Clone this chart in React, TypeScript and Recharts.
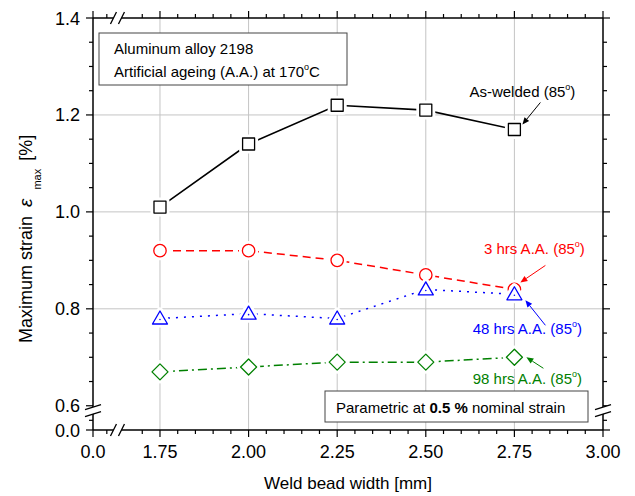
import { LineChart, Line, XAxis, YAxis, CartesianGrid, ReferenceDot } from 'recharts';

const FONT = '"Liberation Sans", Arial, Helvetica, sans-serif';

const widths = [1.75, 2.0, 2.25, 2.5, 2.75];
const asWelded = [1.01, 1.14, 1.22, 1.21, 1.17];
const aged3h = [0.92, 0.92, 0.9, 0.87, 0.84];
const aged48h = [0.78, 0.79, 0.78, 0.84, 0.83];
const aged98h = [0.67, 0.68, 0.69, 0.69, 0.7];

// broken axes: the "0.0" tick sits at the low end of each domain
const X_DOMAIN = [1.561, 3.0];
const Y_DOMAIN = [0.55, 1.4];
const xMajor = [1.561, 1.75, 2.0, 2.25, 2.5, 2.75, 3.0];
const xMajorLabels = ['0.0', '1.75', '2.00', '2.25', '2.50', '2.75', '3.00'];
const xMinor = [1.6, 1.7, 1.8, 1.85, 1.9, 1.95, 2.05, 2.1, 2.15, 2.2, 2.3, 2.35, 2.4, 2.45, 2.55, 2.6, 2.65, 2.7, 2.8, 2.85, 2.9, 2.95];
const yMajor = [0.55, 0.6, 0.8, 1.0, 1.2, 1.4];
const yMajorLabels = ['0.0', '0.6', '0.8', '1.0', '1.2', '1.4'];
const yMinor = [0.57, 0.65, 0.7, 0.75, 0.85, 0.9, 0.95, 1.05, 1.1, 1.15, 1.25, 1.3, 1.35];
const xGrid = [1.75, 2.0, 2.25, 2.5, 2.75];
const yGrid = [0.8, 1.0, 1.2];
const X_BREAK = 1.63;
const Y_BREAK = 0.59;

const data = widths.map((w, i) => ({
  w,
  asWelded: asWelded[i],
  aged3h: aged3h[i],
  aged48h: aged48h[i],
  aged98h: aged98h[i],
}));

const near = (a: number, b: number) => Math.abs(a - b) < 1e-6;
const xTicks = [...xMajor, ...xMinor, X_BREAK];
const yTicks = [...yMajor, ...yMinor, Y_BREAK];

function labelFor(v: number, major: number[], labels: string[]) {
  const i = major.findIndex(m => near(m, v));
  return i >= 0 ? labels[i] : null;
}

function HBreak({ x, y }: any) {
  return (
    <g>
      <polygon points={`${x - 7},${y + 6} ${x - 1},${y - 6} ${x + 7},${y - 6} ${x + 1},${y + 6}`} fill="#fff" />
      <line x1={x - 7} y1={y + 6} x2={x - 1} y2={y - 6} stroke="#000" strokeWidth={1.3} />
      <line x1={x + 1} y1={y + 6} x2={x + 7} y2={y - 6} stroke="#000" strokeWidth={1.3} />
    </g>
  );
}

function VBreak({ x, y }: any) {
  return (
    <g>
      <polygon points={`${x - 8},${y - 1} ${x + 8},${y - 6} ${x + 8},${y + 1} ${x - 8},${y + 6}`} fill="#fff" />
      <line x1={x - 8} y1={y - 1} x2={x + 8} y2={y - 6} stroke="#000" strokeWidth={1.3} />
      <line x1={x - 8} y1={y + 6} x2={x + 8} y2={y + 1} stroke="#000" strokeWidth={1.3} />
    </g>
  );
}

function BottomTick({ x, y, payload }: any) {
  const v = payload.value;
  if (near(v, X_BREAK)) return <HBreak x={x} y={y} />;
  const label = labelFor(v, xMajor, xMajorLabels);
  return (
    <g>
      <line x1={x} x2={x} y1={y} y2={y + (label ? 7 : 4)} stroke="#000" strokeWidth={1.2} />
      {label && (
        <text x={x} y={y + 28} textAnchor="middle" fontSize={18} fontFamily={FONT} fill="#000">
          {label}
        </text>
      )}
    </g>
  );
}

function TopTick({ x, y, payload }: any) {
  const v = payload.value;
  if (near(v, X_BREAK)) return <HBreak x={x} y={y} />;
  const major = labelFor(v, xMajor, xMajorLabels);
  return <line x1={x} x2={x} y1={y} y2={y - (major ? 7 : 4)} stroke="#000" strokeWidth={1.2} />;
}

function LeftTick({ x, y, payload }: any) {
  const v = payload.value;
  if (near(v, Y_BREAK)) return <VBreak x={x} y={y} />;
  const label = labelFor(v, yMajor, yMajorLabels);
  return (
    <g>
      <line x1={x} x2={x - (label ? 7 : 4)} y1={y} y2={y} stroke="#000" strokeWidth={1.2} />
      {label && (
        <text x={x - 13} y={y + 6.5} textAnchor="end" fontSize={18} fontFamily={FONT} fill="#000">
          {label}
        </text>
      )}
    </g>
  );
}

function RightTick({ x, y, payload }: any) {
  const v = payload.value;
  if (near(v, Y_BREAK)) return <VBreak x={x} y={y} />;
  const major = labelFor(v, yMajor, yMajorLabels);
  return <line x1={x} x2={x + (major ? 7 : 4)} y1={y} y2={y} stroke="#000" strokeWidth={1.2} />;
}

function XTitle({ viewBox }: any) {
  const { x, y, width } = viewBox;
  return (
    <text x={x + width / 2} y={y + 59} textAnchor="middle" fontSize={17} fontFamily={FONT} fill="#000">
      Weld bead width [mm]
    </text>
  );
}

function YTitle({ viewBox }: any) {
  const base = viewBox.y + viewBox.height - 87;
  return (
    <text transform={`translate(32, ${base}) rotate(-90)`} x={0} y={0} fontSize={18} fontFamily={FONT} fill="#000">
      Maximum strain<tspan dx={9} fontStyle="italic" fontSize={19}>ε</tspan>
      <tspan dx={9} dy={9} fontSize={11}>max</tspan>
      <tspan dx={8} dy={-9}>[%]</tspan>
    </text>
  );
}

function shapeEl(kind: string, cx: number, cy: number, stroke: string, sw: number) {
  const common = { stroke, strokeWidth: sw, fill: '#fff', strokeLinejoin: 'round' as const };
  if (kind === 'square') return <rect x={cx - 6} y={cy - 6} width={12} height={12} {...common} />;
  if (kind === 'circle') return <circle cx={cx} cy={cy} r={6.2} {...common} />;
  if (kind === 'triangle')
    return <polygon points={`${cx},${cy - 7.5} ${cx + 7.5},${cy + 5.5} ${cx - 7.5},${cy + 5.5}`} {...common} />;
  return <polygon points={`${cx},${cy - 8} ${cx + 8},${cy} ${cx},${cy + 8} ${cx - 8},${cy}`} {...common} />;
}

function makeMarker(kind: string, color: string) {
  return (props: any) => {
    const { cx, cy, index } = props;
    if (cx == null || cy == null) return <g key={`m-${index}`} />;
    return (
      <g key={`m-${index}`}>
        {shapeEl(kind, cx, cy, '#fff', 7)}
        {shapeEl(kind, cx, cy, color, 1.3)}
        {kind === 'triangle' && <circle cx={cx} cy={cy + 1} r={0.8} fill={color} />}
      </g>
    );
  };
}

function Arrow({ x1, y1, x2, y2, color }: any) {
  const a = Math.atan2(y2 - y1, x2 - x1);
  const L = 7;
  const W = 3;
  const bx = x2 - L * Math.cos(a);
  const by = y2 - L * Math.sin(a);
  const p1 = `${bx + W * Math.sin(a)},${by - W * Math.cos(a)}`;
  const p2 = `${bx - W * Math.sin(a)},${by + W * Math.cos(a)}`;
  return (
    <g>
      <line x1={x1} y1={y1} x2={bx} y2={by} stroke={color} strokeWidth={1} />
      <polygon points={`${x2},${y2} ${p1} ${p2}`} fill={color} />
    </g>
  );
}

function Callout({ cx, cy, color, text, tx, ty, arrow }: any) {
  return (
    <g>
      <Arrow x1={cx + arrow[0]} y1={cy + arrow[1]} x2={cx + arrow[2]} y2={cy + arrow[3]} color={color} />
      <text x={cx + tx} y={cy + ty} textAnchor="middle" fontSize={15} fontFamily={FONT} fill={color}>
        {text}(85<tspan dy={-7} fontSize={9}>o</tspan>
        <tspan dy={7}>)</tspan>
      </text>
    </g>
  );
}

function InfoBox({ cx, cy }: any) {
  return (
    <g>
      <rect x={cx + 6} y={cy + 15} width={248} height={52} fill="#fff" stroke="#444" strokeWidth={1} />
      <text x={cx + 21} y={cy + 36} fontSize={15} fontFamily={FONT} fill="#000">
        Aluminum alloy 2198
      </text>
      <text x={cx + 21} y={cy + 59} fontSize={15} fontFamily={FONT} fill="#000">
        Artificial ageing (A.A.) at 170<tspan dy={-7} fontSize={9}>o</tspan>
        <tspan dy={7}>C</tspan>
      </text>
    </g>
  );
}

function NoteBox({ cx, cy }: any) {
  return (
    <g>
      <rect x={cx - 278} y={cy - 39} width={263} height={31} fill="#fff" stroke="#444" strokeWidth={1} />
      <text x={cx - 267} y={cy - 17.5} fontSize={15} fontFamily={FONT} fill="#000">
        Parametric at <tspan fontWeight="bold">0.5 %</tspan> nominal strain
      </text>
    </g>
  );
}

const axisLine = { stroke: '#000', strokeWidth: 1.5 };

export default function App() {
  return (
    <div style={{ position: 'absolute', left: 0, top: 0, background: '#fff' }}>
      <LineChart width={635} height={496} data={data} margin={{ top: 17, right: 31, bottom: 0, left: 0 }} style={{ fontFamily: FONT }}>
        <CartesianGrid stroke="#c4c4c4" strokeWidth={1} horizontalValues={yGrid} verticalValues={xGrid} />
        <XAxis
          dataKey="w"
          type="number"
          domain={X_DOMAIN}
          allowDataOverflow
          ticks={xTicks}
          interval={0}
          height={66}
          tickSize={0}
          tickMargin={0}
          tickLine={false}
          axisLine={axisLine}
          tick={(p: any) => <BottomTick {...p} />}
          label={<XTitle />}
        />
        <XAxis
          xAxisId="top"
          dataKey="w"
          orientation="top"
          type="number"
          domain={X_DOMAIN}
          allowDataOverflow
          ticks={xTicks}
          interval={0}
          height={1}
          tickSize={0}
          tickMargin={0}
          tickLine={false}
          axisLine={axisLine}
          tick={(p: any) => <TopTick {...p} />}
        />
        <YAxis
          type="number"
          domain={Y_DOMAIN}
          allowDataOverflow
          ticks={yTicks}
          interval={0}
          width={93}
          tickSize={0}
          tickMargin={0}
          tickLine={false}
          axisLine={axisLine}
          tick={(p: any) => <LeftTick {...p} />}
          label={<YTitle />}
        />
        <YAxis
          yAxisId="right"
          orientation="right"
          type="number"
          domain={Y_DOMAIN}
          allowDataOverflow
          ticks={yTicks}
          interval={0}
          width={1}
          tickSize={0}
          tickMargin={0}
          tickLine={false}
          axisLine={axisLine}
          tick={(p: any) => <RightTick {...p} />}
        />
        <ReferenceDot x={X_DOMAIN[0]} y={Y_DOMAIN[1]} ifOverflow="visible" shape={(p: any) => <InfoBox {...p} />} />
        <ReferenceDot x={X_DOMAIN[1]} y={Y_DOMAIN[0]} ifOverflow="visible" shape={(p: any) => <NoteBox {...p} />} />
        <Line dataKey="asWelded" stroke="#000" strokeWidth={1.6} dot={makeMarker('square', '#000')} activeDot={false} isAnimationActive={false} />
        <Line dataKey="aged3h" stroke="#ff0000" strokeWidth={1.5} strokeDasharray="8 5" dot={makeMarker('circle', '#ff0000')} activeDot={false} isAnimationActive={false} />
        <Line dataKey="aged48h" stroke="#0000ff" strokeWidth={1.5} strokeDasharray="2 6" dot={makeMarker('triangle', '#0000ff')} activeDot={false} isAnimationActive={false} />
        <Line dataKey="aged98h" stroke="#008000" strokeWidth={1.5} strokeDasharray="9 4 2 4" dot={makeMarker('diamond', '#008000')} activeDot={false} isAnimationActive={false} />
        <ReferenceDot x={widths[4]} y={asWelded[4]} ifOverflow="visible"
          shape={(p: any) => <Callout {...p} color="#000" text="As-welded " tx={8} ty={-32} arrow={[26, -27, 8, -5]} />} />
        <ReferenceDot x={widths[4]} y={aged3h[4]} ifOverflow="visible"
          shape={(p: any) => <Callout {...p} color="#ff0000" text="3 hrs A.A. " tx={20} ty={-35} arrow={[31, -24, 6, -7]} />} />
        <ReferenceDot x={widths[4]} y={aged48h[4]} ifOverflow="visible"
          shape={(p: any) => <Callout {...p} color="#0000ff" text="48 hrs A.A. " tx={13} ty={40} arrow={[31, 31, 11, 6]} />} />
        <ReferenceDot x={widths[4]} y={aged98h[4]} ifOverflow="visible"
          shape={(p: any) => <Callout {...p} color="#008000" text="98 hrs A.A. " tx={13} ty={27} arrow={[29, 11, 12, 0]} />} />
      </LineChart>
    </div>
  );
}
